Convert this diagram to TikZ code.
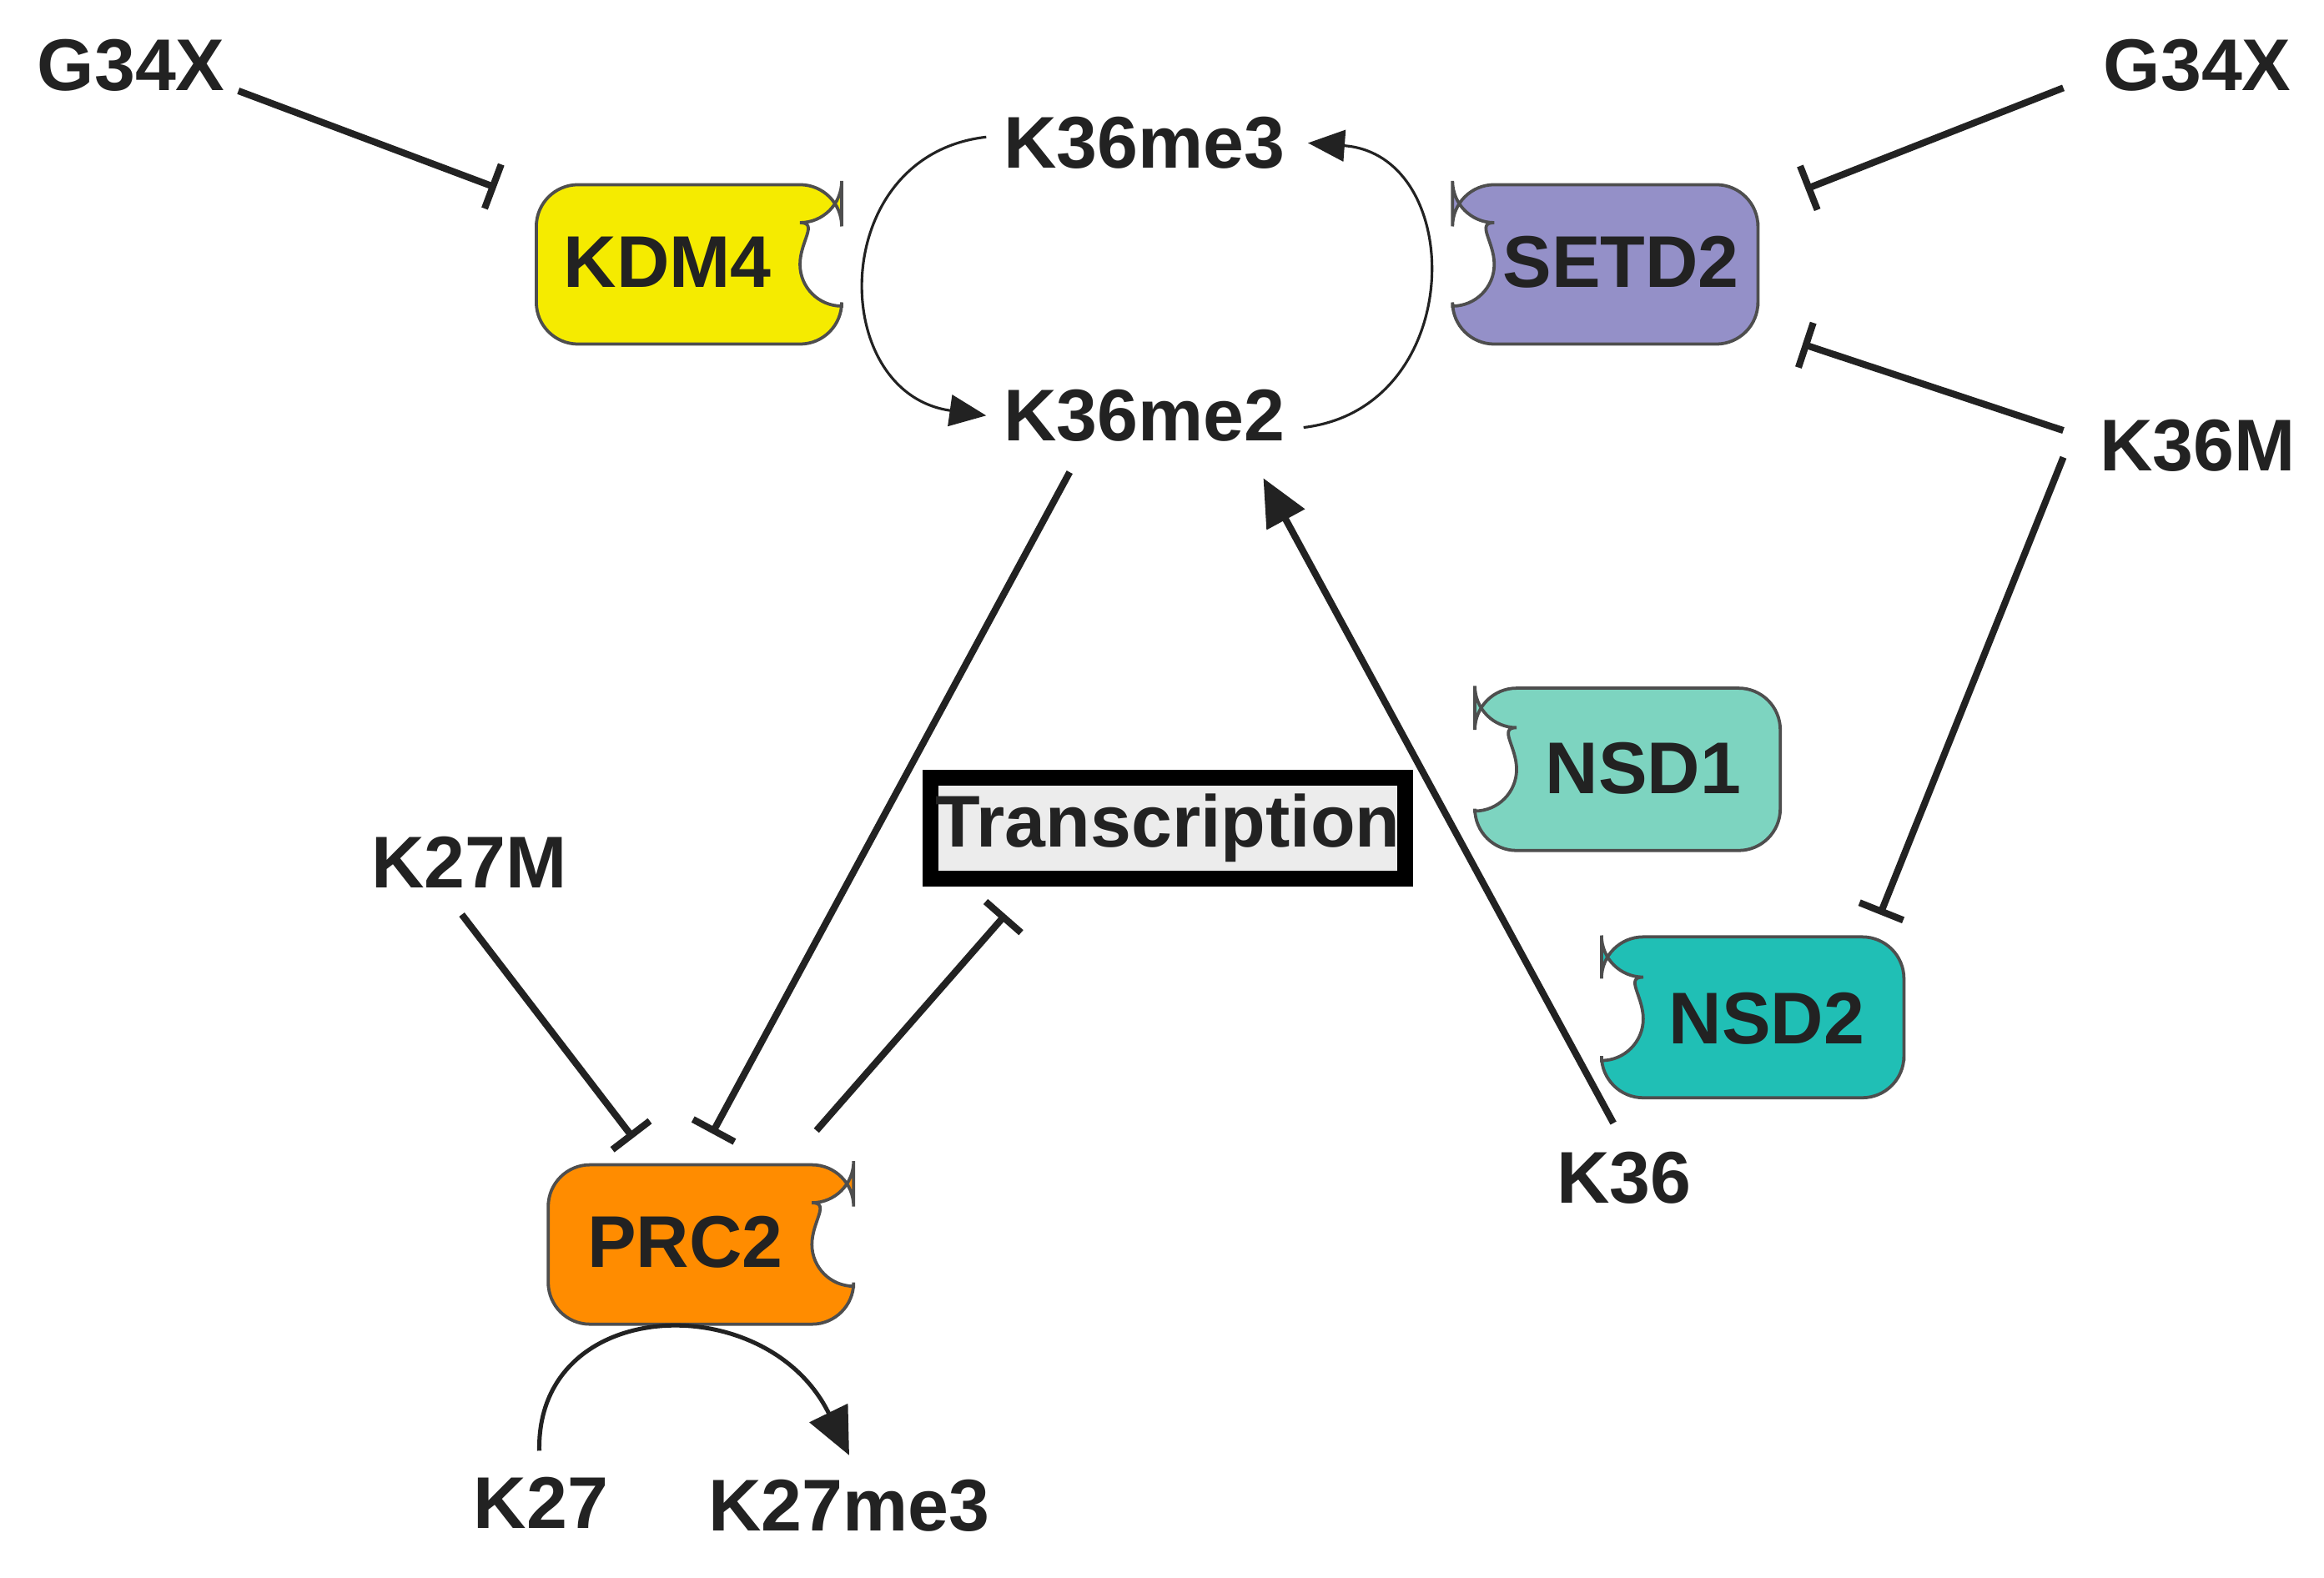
\documentclass[tikz,border=0pt]{standalone}
\usepackage{fontspec}
\setmainfont{Liberation Sans}
\usetikzlibrary{arrows.meta}
\definecolor{ckdm}{HTML}{F5EB00}
\definecolor{csetd}{HTML}{9490C8}
\definecolor{cnsda}{HTML}{7DD4C0}
\definecolor{cnsdb}{HTML}{20BFB5}
\definecolor{cprc}{HTML}{FF8C00}
\definecolor{cline}{HTML}{222222}
\begin{document}
\begin{tikzpicture}[
  lab/.style={font=\bfseries\fontsize{14}{16}\selectfont, text=cline},
  prot/.style={draw=cline!80, line width=0.6pt},
  inh/.style={line width=1.3pt, cline, -{Bar[width=9pt,line width=1.3pt]}},
  act/.style={line width=1.3pt, cline, -{Triangle[length=9pt,width=8pt]}},
  thin/.style={line width=0.5pt, cline, -{Triangle[length=7pt,width=6pt]}}]
\useasboundingbox (0,0) rectangle (15.6,10.59);
% proteins
\fill[ckdm,prot,rounded corners=0.28cm] (3.60,8.815) |- (5.65,9.35) -- (5.65,9.095) [sharp corners] arc[start angle=90,end angle=270,radius=0.28] [rounded corners=0.28cm] -- (5.65,8.28) -| cycle;
\fill[csetd,prot,rounded corners=0.28cm] (11.80,8.815) |- (9.75,9.35) -- (9.75,9.095) [sharp corners] arc[start angle=90,end angle=-90,radius=0.28] [rounded corners=0.28cm] -- (9.75,8.28) -| cycle;
\fill[cnsda,prot,rounded corners=0.28cm] (11.95,5.425) |- (9.90,5.97) -- (9.90,5.705) [sharp corners] arc[start angle=90,end angle=-90,radius=0.28] [rounded corners=0.28cm] -- (9.90,4.88) -| cycle;
\fill[cnsdb,prot,rounded corners=0.28cm] (12.78,3.75) |- (10.75,4.30) -- (10.75,4.03) [sharp corners] arc[start angle=90,end angle=-90,radius=0.28] [rounded corners=0.28cm] -- (10.75,3.22) -| cycle;
\fill[cprc,prot,rounded corners=0.28cm] (3.68,2.235) |- (5.73,2.77) -- (5.73,2.515) [sharp corners] arc[start angle=90,end angle=270,radius=0.28] [rounded corners=0.28cm] -- (5.73,1.70) -| cycle;
\node[lab] (kdm) at (4.48,8.83) {KDM4};
\node[lab] (setd) at (10.88,8.83) {SETD2};
\node[lab] (nsda) at (11.03,5.43) {NSD1};
\node[lab] (nsdb) at (11.86,3.75) {NSD2};
\node[lab] (prc) at (4.60,2.25) {PRC2};
% labels
\node[lab] (g1) at (0.88,10.15) {G34X};
\node[lab] (g2) at (14.75,10.15) {G34X};
\node[lab] (me3) at (7.68,9.63) {K36me3};
\node[lab] (me2) at (7.68,7.80) {K36me2};
\node[lab] (k36m) at (14.75,7.60) {K36M};
\node[lab] (k27m) at (3.15,4.80) {K27M};
\node[lab] (k36) at (10.90,2.68) {K36};
\node[lab] (k27) at (3.63,0.50) {K27};
\node[lab] (k27me3) at (5.70,0.48) {K27me3};
\node[lab, draw=black, line width=3pt, fill=gray!15, minimum width=2.86cm, minimum height=0.68cm, inner sep=1pt] (tr) at (7.84,5.03) {Transcription};
% coordinates
\coordinate (a1) at (1.60,9.98); \coordinate (a2) at (3.33,9.33);
\coordinate (b1) at (13.85,10.0); \coordinate (b2) at (12.12,9.32);
\coordinate (c1) at (13.85,7.70); \coordinate (c2) at (12.10,8.28);
\coordinate (d1) at (13.85,7.52); \coordinate (d2) at (12.62,4.45);
\coordinate (e1) at (10.83,3.05); \coordinate (e2) at (8.48,7.38);
\coordinate (f1) at (7.18,7.42); \coordinate (f2) at (4.78,2.98);
\coordinate (h1) at (3.10,4.45); \coordinate (h2) at (4.25,2.95);
\coordinate (i1) at (5.48,3.00); \coordinate (i2) at (6.75,4.45);
\draw[inh] (a1) -- (a2);
\draw[inh] (b1) -- (b2);
\draw[inh] (c1) -- (c2);
\draw[inh] (d1) -- (d2);
\draw[act] (e1) -- (e2);
\draw[inh] (f1) -- (f2);
\draw[inh] (h1) -- (h2);
\draw[inh] (i1) -- (i2);
% curved
\coordinate (l1) at (6.62,9.67); \coordinate (l2) at (6.62,7.80);
\coordinate (r1) at (8.75,7.72); \coordinate (r2) at (8.78,9.63);
\draw[thin] (l1) .. controls (5.55,9.55) and (5.55,7.95) .. (l2);
\draw[thin] (r1) .. controls (9.85,7.85) and (9.85,9.55) .. (r2);
\coordinate (p1) at (3.62,0.85); \coordinate (p2) at (5.70,0.82);
\draw[line width=0.8pt, cline, -{Triangle[length=9pt,width=8pt]}] (p1) .. controls (3.6,1.9) and (5.15,1.95) .. (p2);
\end{tikzpicture}
\end{document}
